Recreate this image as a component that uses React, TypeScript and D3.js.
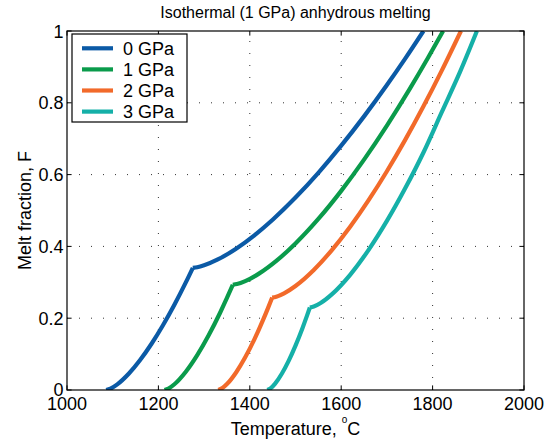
import React from "react";
import * as d3 from "d3";

const TITLE = "Isothermal (1 GPa) anhydrous melting";
const X_TICKS = [1000, 1200, 1400, 1600, 1800, 2000];
const Y_TICKS = [0, 0.2, 0.4, 0.6, 0.8, 1];
const Y_TICK_LABELS = ["0", "0.2", "0.4", "0.6", "0.8", "1"];

const SERIES_NAMES = ["0 GPa", "1 GPa", "2 GPa", "3 GPa"];
const SERIES_COLORS = ["#0b5aa6", "#0a9b4b", "#f26a2a", "#15b0a8"];
const KINK_T = [1275.3, 1362.8, 1449.0, 1531.4];

const T_0GPA = [1085.7, 1095, 1110, 1135, 1160, 1185, 1210, 1235, 1260, 1275.3, 1285, 1300, 1330, 1370, 1410, 1450, 1500, 1550, 1600, 1650, 1700, 1740, 1780];
const F_0GPA = [0, 0.0037, 0.0156, 0.0451, 0.0834, 0.1288, 0.1804, 0.2375, 0.2996, 0.34, 0.3418, 0.3472, 0.3636, 0.3936, 0.431, 0.4744, 0.5361, 0.605, 0.6806, 0.7622, 0.8495, 0.9231, 1.0];

const T_1GPA = [1213.5, 1222, 1235, 1260, 1285, 1310, 1335, 1350, 1362.8, 1372, 1390, 1420, 1460, 1500, 1550, 1600, 1650, 1700, 1750, 1790, 1823];
const F_1GPA = [0, 0.004, 0.016, 0.051, 0.0972, 0.1524, 0.2152, 0.2563, 0.2931, 0.2951, 0.3033, 0.3241, 0.3617, 0.4082, 0.4765, 0.5547, 0.6416, 0.7365, 0.8387, 0.9254, 1.0];

const T_2GPA = [1331.1, 1340, 1350, 1370, 1390, 1410, 1430, 1440, 1449.0, 1458, 1475, 1500, 1540, 1580, 1620, 1660, 1700, 1740, 1780, 1820, 1862];
const F_2GPA = [0, 0.0053, 0.0165, 0.0489, 0.091, 0.1411, 0.198, 0.2288, 0.2576, 0.26, 0.2693, 0.2898, 0.3344, 0.3903, 0.4554, 0.5287, 0.6094, 0.6967, 0.7903, 0.8897, 1.0];

const T_3GPA = [1438.5, 1446, 1455, 1470, 1485, 1500, 1515, 1525, 1531.4, 1540, 1555, 1580, 1620, 1660, 1700, 1740, 1780, 1820, 1860, 1897];
const F_3GPA = [0, 0.0053, 0.0172, 0.0454, 0.0813, 0.1237, 0.1716, 0.2064, 0.2297, 0.2325, 0.2424, 0.2671, 0.3216, 0.3904, 0.4709, 0.5617, 0.6616, 0.774, 0.8861, 1.0];

const SERIES_T = [T_0GPA, T_1GPA, T_2GPA, T_3GPA];
const SERIES_F = [F_0GPA, F_1GPA, F_2GPA, F_3GPA];

const W = 553;
const H = 443;
const M = { left: 67, right: 524, top: 31, bottom: 390 };
const FONT = "'Liberation Sans', Arial, Helvetica, sans-serif";

export default function App() {
  const x = d3.scaleLinear().domain([1000, 2000]).range([M.left, M.right]);
  const y = d3.scaleLinear().domain([0, 1]).range([M.bottom, M.top]);
  const line = d3
    .line<[number, number]>()
    .x((d) => x(d[0]))
    .y((d) => y(d[1]))
    .curve(d3.curveMonotoneX);

  const tickLen = 4.6;

  return (
    <svg
      width={W}
      height={H}
      style={{ position: "absolute", left: 0, top: 0, background: "#fff" }}
      fontFamily={FONT}
    >
      <rect x={0} y={0} width={W} height={H} fill="#fff" />
      <defs>
        <clipPath id="plotclip">
          <rect x={M.left} y={M.top} width={M.right - M.left} height={M.bottom - M.top} />
        </clipPath>
      </defs>

      {/* grid */}
      {X_TICKS.slice(1, -1).map((t) => (
        <line
          key={"gx" + t}
          x1={x(t)}
          x2={x(t)}
          y1={M.bottom}
          y2={M.top}
          stroke="#333"
          strokeWidth={1}
          strokeDasharray="1,11"
        />
      ))}
      {Y_TICKS.slice(1, -1).map((t) => (
        <line
          key={"gy" + t}
          x1={M.left}
          x2={M.right}
          y1={y(t)}
          y2={y(t)}
          stroke="#333"
          strokeWidth={1}
          strokeDasharray="1,11"
        />
      ))}

      {/* curves: each split at the cpx-out kink so the corner stays sharp */}
      <g clipPath="url(#plotclip)">
        {SERIES_T.map((ts, i) => {
          const pts: [number, number][] = ts.map((t, j) => [t, SERIES_F[i][j]]);
          const lower = pts.filter((p) => p[0] <= KINK_T[i]);
          const upper = pts.filter((p) => p[0] >= KINK_T[i]);
          return (
            <g key={"s" + i}>
              <path d={line(lower) || ""} fill="none" stroke={SERIES_COLORS[i]} strokeWidth={4.2} strokeLinejoin="round" />
              <path d={line(upper) || ""} fill="none" stroke={SERIES_COLORS[i]} strokeWidth={4.2} strokeLinejoin="round" />
            </g>
          );
        })}
      </g>

      {/* frame */}
      <rect
        x={M.left}
        y={M.top}
        width={M.right - M.left}
        height={M.bottom - M.top}
        fill="none"
        stroke="#000"
        strokeWidth={1.2}
      />

      {/* ticks */}
      {X_TICKS.map((t) => (
        <g key={"tx" + t}>
          <line x1={x(t)} x2={x(t)} y1={M.bottom} y2={M.bottom - tickLen} stroke="#000" strokeWidth={1} />
          <line x1={x(t)} x2={x(t)} y1={M.top} y2={M.top + tickLen} stroke="#000" strokeWidth={1} />
          <text x={x(t)} y={410} fontSize={18} textAnchor="middle" fill="#000">
            {t}
          </text>
        </g>
      ))}
      {Y_TICKS.map((t, i) => (
        <g key={"ty" + t}>
          <line x1={M.left} x2={M.left + tickLen} y1={y(t)} y2={y(t)} stroke="#000" strokeWidth={1} />
          <line x1={M.right} x2={M.right - tickLen} y1={y(t)} y2={y(t)} stroke="#000" strokeWidth={1} />
          <text x={63.5} y={y(t) + (t === 0 ? 5.5 : 6.5)} fontSize={18} textAnchor="end" fill="#000">
            {Y_TICK_LABELS[i]}
          </text>
        </g>
      ))}

      {/* title */}
      <text x={(M.left + M.right) / 2} y={18} fontSize={16} textAnchor="middle" fill="#000">
        {TITLE}
      </text>

      {/* x label */}
      <text x={(M.left + M.right) / 2} y={435} fontSize={18} textAnchor="middle" fill="#000">
        Temperature,{" "}
        <tspan fontSize={10} dy={-12.5}>o</tspan>
        <tspan dy={12.5}>C</tspan>
      </text>

      {/* y label */}
      <text
        transform={`translate(24.5, ${(M.top + M.bottom) / 2}) rotate(-90)`}
        x={0}
        y={6}
        fontSize={18}
        textAnchor="middle"
        fill="#000"
      >
        Melt fraction, F
      </text>

      {/* legend */}
      <rect x={72} y={34} width={115} height={88} fill="#fff" stroke="#000" strokeWidth={1.2} />
      {SERIES_NAMES.map((name, i) => {
        const cy = 48.3 + i * 21.1;
        return (
          <g key={"lg" + i}>
            <line x1={82} x2={113} y1={cy} y2={cy} stroke={SERIES_COLORS[i]} strokeWidth={4.2} />
            <text x={123} y={cy + 6.5} fontSize={18} fill="#000">
              {name}
            </text>
          </g>
        );
      })}
    </svg>
  );
}
